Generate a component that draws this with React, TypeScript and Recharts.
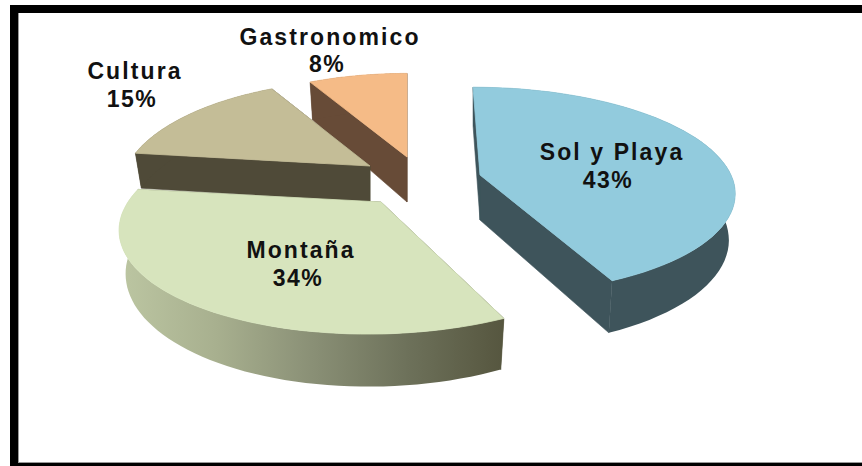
import React from "react";
import { PieChart, Pie } from "recharts";

const CATEGORIES = ["Gastronomico", "Cultura", "Montaña", "Sol y Playa"];
const SHARES = [8, 15, 34, 43];

const TOP_COLORS = ["#f5bb87", "#c4bd97", "#d7e4bd", "#92cbdd"];
const WALL_COLORS = ["#674b37", "#4f4a38", "url(#montanaWall)", "#3e545b"];

// Where each exploded slice sits and how it is foreshortened.
const SLICE_VIEW = [
  { dx: 26, dy: -45, rx: 240, ry: 102, k: 0.22, skew: 0, depth: 45 },
  { dx: -11, dy: -36, rx: 243, ry: 105, k: 0.22, skew: 0, depth: 36 },
  { dx: 0, dy: 0, rx: 253, ry: 103, k: 0.22, skew: -0.1, depth: 41 },
  { dx: 99, dy: -27, rx: 251, ry: 101, k: 0.15, skew: 0.08, depth: 45 },
];

const LABEL_VIEW = [
  { nameX: 330, nameY: 45, valueX: 327, valueY: 72 },
  { nameX: 135, nameY: 79, valueX: 132, valueY: 107 },
  { nameX: 301, nameY: 258, valueX: 298, valueY: 286 },
  { nameX: 612, nameY: 160, valueX: 608, valueY: 188 },
];

const WIDTH = 862;
const HEIGHT = 466;
const CENTER_X = 381;
const CENTER_Y = 202;
const OUTER_RADIUS = 256;
const WALL_INSET = 0.975;

const tableData = CATEGORIES.map((name, i) => ({ name, value: SHARES[i], idx: i }));

type Pt = [number, number];

function toPath(points: Pt[]) {
  return "M" + points.map((p) => `${p[0].toFixed(1)},${p[1].toFixed(1)}`).join("L") + "Z";
}

// Recharts angle (degrees, ccw from +x) to a point on the tilted disc
function project(angle: number, radius: number, idx: number, bottom: boolean): Pt {
  const view = SLICE_VIEW[idx];
  const rad = (angle * Math.PI) / 180;
  const u = Math.cos(rad);
  const v = Math.sin(rad);
  const s = 1 / (1 + view.k * v);
  const scale = radius / OUTER_RADIUS;
  const y = -view.ry * scale * v * s;
  let x = view.rx * scale * u * s + view.skew * y;
  if (bottom) x *= WALL_INSET;
  return [x, y + (bottom ? view.depth * s : 0)];
}

function SliceShape(props: any) {
  const { cx, cy, outerRadius, startAngle, endAngle, payload } = props;
  const idx = payload.idx;
  const view = SLICE_VIEW[idx];
  const ox = cx + view.dx;
  const oy = cy + view.dy;
  const at = (p: Pt): Pt => [p[0] + ox, p[1] + oy];

  const steps = 60;
  const topArc: Pt[] = [];
  const bottomArc: Pt[] = [];
  for (let i = 0; i <= steps; i++) {
    const a = startAngle + ((endAngle - startAngle) * i) / steps;
    topArc.push(at(project(a, outerRadius, idx, false)));
    bottomArc.push(at(project(a, outerRadius, idx, true)));
  }
  const apexTop: Pt = [ox, oy];
  const apexBottom: Pt = [ox, oy + view.depth];
  const wall = WALL_COLORS[idx];
  const flatWall = wall.startsWith("url") ? "#58583f" : wall;

  return (
    <g>
      <path d={toPath([apexTop, topArc[0], bottomArc[0], apexBottom])} fill={flatWall} stroke={flatWall} strokeWidth={0.6} />
      <path d={toPath([apexTop, topArc[steps], bottomArc[steps], apexBottom])} fill={flatWall} stroke={flatWall} strokeWidth={0.6} />
      <path d={toPath([...topArc, ...bottomArc.slice().reverse()])} fill={wall} />
      {/* thin same-colour stroke hides the wall's antialiased fringe */}
      <path d={toPath([apexTop, ...topArc])} fill={TOP_COLORS[idx]} stroke={TOP_COLORS[idx]} strokeWidth={0.8} />
    </g>
  );
}

const labelStyle = {
  fontFamily: "'Liberation Sans', Arial, sans-serif",
  fontSize: 23,
  fontWeight: 700,
  fill: "#111",
};

function SliceLabel(props: any) {
  const { payload, name, value } = props;
  const idx = payload?.idx ?? CATEGORIES.indexOf(name);
  const at = LABEL_VIEW[idx];
  return (
    <g>
      <text x={at.nameX} y={at.nameY} textAnchor="middle" letterSpacing={2.1} style={labelStyle}>
        {CATEGORIES[idx]}
      </text>
      <text x={at.valueX} y={at.valueY} textAnchor="middle" letterSpacing={1.5} style={labelStyle}>
        {`${value}%`}
      </text>
    </g>
  );
}

export default function App() {
  return (
    <div style={{ position: "fixed", left: 0, top: 0, width: WIDTH, height: HEIGHT, background: "#fff" }}>
      {/* heavy black frame, open on the right */}
      <div
        style={{
          position: "absolute",
          left: 10,
          top: 5,
          width: WIDTH - 10,
          height: HEIGHT - 5,
          boxSizing: "border-box",
          borderLeft: "8px solid #000",
          borderTop: "8px solid #000",
          borderBottom: "3px solid #000",
          boxShadow: "inset 1px -1px 0 #999",
        }}
      />
      <div style={{ position: "absolute", left: 0, top: 0 }}>
        <PieChart width={WIDTH} height={HEIGHT} margin={{ top: 0, right: 0, bottom: 0, left: 0 }}>
          <defs>
            <linearGradient id="montanaWall" x1="0" y1="0" x2="1" y2="0">
              <stop offset="0%" stopColor="#bcc6a2" />
              <stop offset="25%" stopColor="#a8b08f" />
              <stop offset="50%" stopColor="#8a9076" />
              <stop offset="75%" stopColor="#6d715a" />
              <stop offset="100%" stopColor="#56563f" />
            </linearGradient>
          </defs>
          <Pie
            data={tableData}
            dataKey="value"
            nameKey="name"
            cx={CENTER_X}
            cy={CENTER_Y}
            innerRadius={0}
            outerRadius={OUTER_RADIUS}
            startAngle={90}
            endAngle={450}
            stroke="none"
            isAnimationActive={false}
            shape={SliceShape}
            label={SliceLabel}
            labelLine={false}
          />
        </PieChart>
      </div>
    </div>
  );
}
